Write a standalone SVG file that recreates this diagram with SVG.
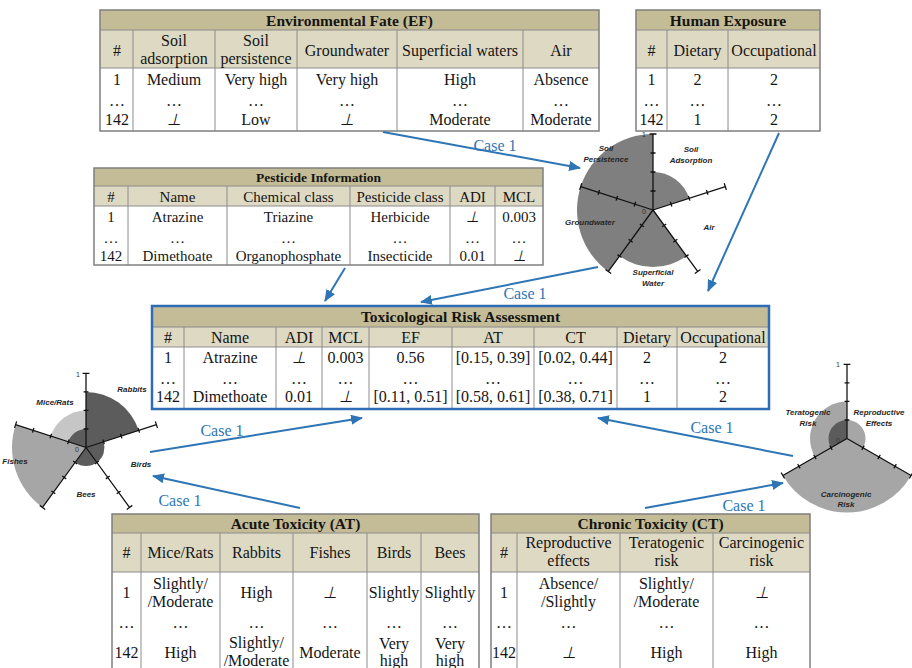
<svg xmlns="http://www.w3.org/2000/svg" xmlns:xlink="http://www.w3.org/1999/xlink" width="912" height="668" viewBox="0 0 912 668">
<style>
.tf{fill:#c4bc96}
.hf{fill:#ddd9c3}
.wf{fill:#ffffff}
.ob{fill:none;stroke:#7f7f7f;stroke-width:1.5}
.bb{fill:none;stroke:#2e6db4;stroke-width:2.5}
.gl{stroke:#8c8c8c;stroke-width:1;fill:none}
text{font-family:"Liberation Serif","Times New Roman",serif;fill:#151515;text-anchor:middle}
.ttl{font-weight:bold;font-size:15.5px}
.ttls{font-weight:bold;font-size:13.5px}
.c{font-size:16px}
.cs{font-size:15px}
.it{font-style:italic}
.lab{font-family:"Liberation Sans",Arial,sans-serif;font-weight:bold;font-style:italic;font-size:8px;fill:#262626}
.num{font-family:"Liberation Sans",Arial,sans-serif;font-size:7px;fill:#333}
.case{font-size:16px;fill:#2e75b6}
.dk{fill:#5c5c5c}
.md{fill:#7f7f7f}
.lt{fill:#a6a6a6}
.lt2{fill:#c6c6c6}
.ax{fill:none;stroke:#111;stroke-width:1.3}
.arr{fill:none;stroke:#2e75b6;stroke-width:2;marker-end:url(#ah)}
</style>
<defs>
<marker id="ah" viewBox="0 0 12 10" refX="11" refY="5" markerWidth="12" markerHeight="10" markerUnits="userSpaceOnUse" orient="auto">
<path d="M0,0 L12,5 L0,10 Z" fill="#2e75b6"/>
</marker>
<path id="axis" class="ax" d="M0,0 V-76 M-2.5,-19 H2.5 M-2.5,-38 H2.5 M-2.5,-57 H2.5 M-3.5,-76 H3.5"/>
</defs>
<rect width="912" height="668" fill="#ffffff"/>

<!-- Environmental Fate -->
<g id="ef-table">
<rect x="100" y="10" width="499" height="20" class="tf"/>
<rect x="100" y="30" width="499" height="38" class="hf"/>
<rect x="100" y="68" width="499" height="63" class="wf"/>
<path class="gl" d="M100,30 H599 M100,68 H599 M133,30 V131 M215,30 V131 M297,30 V131 M397,30 V131 M523,30 V131"/>
<rect x="100" y="10" width="499" height="121" class="ob"/>
<text class="ttl" x="349.5" y="26">Environmental Fate (EF)</text>
<text class="c" x="117" y="56">#</text>
<text class="c" x="174" y="46">Soil</text><text class="c" x="174" y="64">adsorption</text>
<text class="c" x="256" y="46">Soil</text><text class="c" x="256" y="64">persistence</text>
<text class="c" x="347" y="56">Groundwater</text>
<text class="c" x="460" y="56">Superficial waters</text>
<text class="c" x="561" y="56">Air</text>
<text class="c" x="117" y="85">1</text><text class="c" x="174" y="85">Medium</text><text class="c" x="256" y="85">Very high</text><text class="c" x="347" y="85">Very high</text><text class="c" x="460" y="85">High</text><text class="c" x="561" y="85">Absence</text>
<text class="c" x="117" y="106">…</text><text class="c" x="174" y="106">…</text><text class="c" x="256" y="106">…</text><text class="c" x="347" y="106">…</text><text class="c" x="460" y="106">…</text><text class="c" x="561" y="106">…</text>
<text class="c" x="117" y="125">142</text><text class="c it" x="174" y="125">⊥</text><text class="c" x="256" y="125">Low</text><text class="c it" x="347" y="125">⊥</text><text class="c" x="460" y="125">Moderate</text><text class="c" x="561" y="125">Moderate</text>
</g>

<!-- Human Exposure -->
<g id="he-table">
<rect x="636" y="10" width="184" height="20" class="tf"/>
<rect x="636" y="30" width="184" height="38" class="hf"/>
<rect x="636" y="68" width="184" height="63" class="wf"/>
<path class="gl" d="M636,30 H820 M636,68 H820 M667,30 V131 M728,30 V131"/>
<rect x="636" y="10" width="184" height="121" class="ob"/>
<text class="ttl" x="728" y="26">Human Exposure</text>
<text class="c" x="651.5" y="56">#</text><text class="c" x="697.5" y="56">Dietary</text><text class="c" x="774" y="56">Occupational</text>
<text class="c" x="651.5" y="85">1</text><text class="c" x="697.5" y="85">2</text><text class="c" x="774" y="85">2</text>
<text class="c" x="651.5" y="106">…</text><text class="c" x="697.5" y="106">…</text><text class="c" x="774" y="106">…</text>
<text class="c" x="651.5" y="125">142</text><text class="c" x="697.5" y="125">1</text><text class="c" x="774" y="125">2</text>
</g>

<!-- Pesticide Information -->
<g id="pi-table">
<rect x="94" y="168" width="449" height="18" class="tf"/>
<rect x="94" y="186" width="449" height="20" class="hf"/>
<rect x="94" y="206" width="449" height="59" class="wf"/>
<path class="gl" d="M94,186 H543 M94,206 H543 M128,186 V265 M227,186 V265 M350,186 V265 M450,186 V265 M495,186 V265"/>
<rect x="94" y="168" width="449" height="97" class="ob"/>
<text class="ttls" x="318.5" y="182">Pesticide Information</text>
<text class="cs" x="111" y="202">#</text><text class="cs" x="177.5" y="202">Name</text><text class="cs" x="288.5" y="202">Chemical class</text><text class="cs" x="400" y="202">Pesticide class</text><text class="cs" x="472.5" y="202">ADI</text><text class="cs" x="519" y="202">MCL</text>
<text class="cs" x="111" y="222">1</text><text class="cs" x="177.5" y="222">Atrazine</text><text class="cs" x="288.5" y="222">Triazine</text><text class="cs" x="400" y="222">Herbicide</text><text class="cs it" x="472.5" y="222">⊥</text><text class="cs" x="519" y="222">0.003</text>
<text class="cs" x="111" y="243">…</text><text class="cs" x="177.5" y="243">…</text><text class="cs" x="288.5" y="243">…</text><text class="cs" x="400" y="243">…</text><text class="cs" x="472.5" y="243">…</text><text class="cs" x="519" y="243">…</text>
<text class="cs" x="111" y="261">142</text><text class="cs" x="177.5" y="261">Dimethoate</text><text class="cs" x="288.5" y="261">Organophosphate</text><text class="cs" x="400" y="261">Insecticide</text><text class="cs" x="472.5" y="261">0.01</text><text class="cs it" x="519" y="261">⊥</text>
</g>

<!-- Toxicological Risk Assessment -->
<g id="tra-table">
<rect x="152" y="306" width="617" height="21" class="tf"/>
<rect x="152" y="327" width="617" height="20" class="hf"/>
<rect x="152" y="347" width="617" height="62" class="wf"/>
<path class="gl" d="M152,327 H769 M152,347 H769 M184,327 V409 M276,327 V409 M322,327 V409 M369,327 V409 M452,327 V409 M534,327 V409 M617,327 V409 M677,327 V409"/>
<rect x="152" y="306" width="617" height="103" class="bb"/>
<text class="ttl" x="460.5" y="322">Toxicological Risk Assessment</text>
<text class="c" x="168" y="343">#</text><text class="c" x="230" y="343">Name</text><text class="c" x="299" y="343">ADI</text><text class="c" x="345.5" y="343">MCL</text><text class="c" x="410.5" y="343">EF</text><text class="c" x="493" y="343">AT</text><text class="c" x="575.5" y="343">CT</text><text class="c" x="647" y="343">Dietary</text><text class="c" x="723" y="343">Occupational</text>
<text class="c" x="168" y="363">1</text><text class="c" x="230" y="363">Atrazine</text><text class="c it" x="299" y="363">⊥</text><text class="c" x="345.5" y="363">0.003</text><text class="c" x="410.5" y="363">0.56</text><text class="c" x="493" y="363">[0.15, 0.39]</text><text class="c" x="575.5" y="363">[0.02, 0.44]</text><text class="c" x="647" y="363">2</text><text class="c" x="723" y="363">2</text>
<text class="c" x="168" y="384">…</text><text class="c" x="230" y="384">…</text><text class="c" x="299" y="384">…</text><text class="c" x="345.5" y="384">…</text><text class="c" x="410.5" y="384">…</text><text class="c" x="493" y="384">…</text><text class="c" x="575.5" y="384">…</text><text class="c" x="647" y="384">…</text><text class="c" x="723" y="384">…</text>
<text class="c" x="168" y="402">142</text><text class="c" x="230" y="402">Dimethoate</text><text class="c" x="299" y="402">0.01</text><text class="c it" x="345.5" y="402">⊥</text><text class="c" x="410.5" y="402">[0.11, 0.51]</text><text class="c" x="493" y="402">[0.58, 0.61]</text><text class="c" x="575.5" y="402">[0.38, 0.71]</text><text class="c" x="647" y="402">1</text><text class="c" x="723" y="402">2</text>
</g>

<!-- Acute Toxicity -->
<g id="at-table">
<rect x="112" y="514" width="367" height="19" class="tf"/>
<rect x="112" y="533" width="367" height="39" class="hf"/>
<rect x="112" y="572" width="367" height="96" class="wf"/>
<path class="gl" d="M112,533 H479 M112,572 H479 M141,533 V668 M220,533 V668 M293,533 V668 M367,533 V668 M421,533 V668"/>
<rect x="112" y="514" width="367" height="160" class="ob"/>
<text class="ttl" x="295.5" y="529">Acute Toxicity (AT)</text>
<text class="c" x="126.5" y="558">#</text><text class="c" x="180.5" y="558">Mice/Rats</text><text class="c" x="256.5" y="558">Rabbits</text><text class="c" x="330" y="558">Fishes</text><text class="c" x="394" y="558">Birds</text><text class="c" x="450" y="558">Bees</text>
<text class="c" x="126.5" y="598">1</text><text class="c" x="180.5" y="589">Slightly/</text><text class="c" x="180.5" y="607">/Moderate</text><text class="c" x="256.5" y="598">High</text><text class="c it" x="330" y="598">⊥</text><text class="c" x="394" y="598">Slightly</text><text class="c" x="450" y="598">Slightly</text>
<text class="c" x="126.5" y="628">…</text><text class="c" x="180.5" y="628">…</text><text class="c" x="256.5" y="628">…</text><text class="c" x="330" y="628">…</text><text class="c" x="394" y="628">…</text><text class="c" x="450" y="628">…</text>
<text class="c" x="126.5" y="658">142</text><text class="c" x="180.5" y="658">High</text><text class="c" x="256.5" y="648">Slightly/</text><text class="c" x="256.5" y="666">/Moderate</text><text class="c" x="330" y="658">Moderate</text><text class="c" x="394" y="649">Very</text><text class="c" x="394" y="666">high</text><text class="c" x="450" y="649">Very</text><text class="c" x="450" y="666">high</text>
</g>

<!-- Chronic Toxicity -->
<g id="ct-table">
<rect x="491" y="514" width="319" height="19" class="tf"/>
<rect x="491" y="533" width="319" height="39" class="hf"/>
<rect x="491" y="572" width="319" height="96" class="wf"/>
<path class="gl" d="M491,533 H810 M491,572 H810 M517,533 V668 M620,533 V668 M713,533 V668"/>
<rect x="491" y="514" width="319" height="160" class="ob"/>
<text class="ttl" x="650.5" y="529">Chronic Toxicity (CT)</text>
<text class="c" x="504" y="558">#</text><text class="c" x="568.5" y="548">Reproductive</text><text class="c" x="568.5" y="566">effects</text><text class="c" x="666.5" y="548">Teratogenic</text><text class="c" x="666.5" y="566">risk</text><text class="c" x="761.5" y="548">Carcinogenic</text><text class="c" x="761.5" y="566">risk</text>
<text class="c" x="504" y="598">1</text><text class="c" x="568.5" y="589">Absence/</text><text class="c" x="568.5" y="607">/Slightly</text><text class="c" x="666.5" y="589">Slightly/</text><text class="c" x="666.5" y="607">/Moderate</text><text class="c it" x="761.5" y="598">⊥</text>
<text class="c" x="504" y="628">…</text><text class="c" x="568.5" y="628">…</text><text class="c" x="666.5" y="628">…</text><text class="c" x="761.5" y="628">…</text>
<text class="c" x="504" y="658">142</text><text class="c it" x="568.5" y="658">⊥</text><text class="c" x="666.5" y="658">High</text><text class="c" x="761.5" y="658">High</text>
</g>

<!-- Radial chart: Environmental Fate -->
<g id="ef-chart">
<path class="md" d="M653,210 L653,172 A38,38 0 0 1 689.14,198.26 Z"/>
<path class="md" d="M653,210 L686.5,256.1 A57,57 0 0 1 619.5,256.1 Z"/>
<path class="md" d="M653,210 L608.33,271.48 A76,76 0 0 1 653,134 Z"/>
<use xlink:href="#axis" href="#axis" transform="translate(653,210)"/>
<use xlink:href="#axis" href="#axis" transform="translate(653,210) rotate(72)"/>
<use xlink:href="#axis" href="#axis" transform="translate(653,210) rotate(144)"/>
<use xlink:href="#axis" href="#axis" transform="translate(653,210) rotate(216)"/>
<use xlink:href="#axis" href="#axis" transform="translate(653,210) rotate(288)"/>
<text class="num" x="644" y="137">1</text>
<text class="num" x="644" y="214">0</text>
<text class="lab" x="606" y="151">Soil</text><text class="lab" x="606" y="162">Persistence</text>
<text class="lab" x="691" y="152">Soil</text><text class="lab" x="691" y="163">Adsorption</text>
<text class="lab" x="709" y="230">Air</text>
<text class="lab" x="590" y="225">Groundwater</text>
<text class="lab" x="653" y="275">Superficial</text><text class="lab" x="653" y="286">Water</text>
</g>

<!-- Radial chart: Acute Toxicity -->
<g id="at-chart">
<path class="dk" d="M86,447.5 L86,392 A55.5,55.5 0 0 1 138.79,430.35 Z"/>
<path class="dk" d="M86,447.5 L103.6,441.78 A18.5,18.5 0 0 1 75.13,462.47 Z"/>
<path class="lt" d="M86,447.5 L42.5,507.37 A74,74 0 0 1 15.62,424.63 Z"/>
<path class="lt2" d="M86,447.5 L50.81,436.07 A37,37 0 0 1 86,410.5 Z"/>
<path class="dk" d="M86,447.5 L68.4,441.78 A18.5,18.5 0 0 1 86,429 Z"/>
<use xlink:href="#axis" href="#axis" transform="translate(86,447.5) scale(0.974)"/>
<use xlink:href="#axis" href="#axis" transform="translate(86,447.5) rotate(72) scale(0.974)"/>
<use xlink:href="#axis" href="#axis" transform="translate(86,447.5) rotate(144) scale(0.974)"/>
<use xlink:href="#axis" href="#axis" transform="translate(86,447.5) rotate(216) scale(0.974)"/>
<use xlink:href="#axis" href="#axis" transform="translate(86,447.5) rotate(288) scale(0.974)"/>
<text class="num" x="78" y="377">1</text>
<text class="num" x="77" y="452">0</text>
<text class="lab" x="132" y="392">Rabbits</text>
<text class="lab" x="55" y="405">Mice/Rats</text>
<text class="lab" x="15" y="464">Fishes</text>
<text class="lab" x="141" y="467">Birds</text>
<text class="lab" x="86" y="497">Bees</text>
</g>

<!-- Radial chart: Chronic Toxicity -->
<g id="ct-chart">
<path class="lt" d="M847,438.5 L911.09,475.5 A74,74 0 0 1 782.91,475.5 Z"/>
<path class="lt" d="M847,438.5 L847,420 A18.5,18.5 0 0 1 863.02,447.75 Z"/>
<path class="lt" d="M847,438.5 L814.96,457 A37,37 0 0 1 847,401.5 Z"/>
<path class="dk" d="M847,438.5 L830.98,447.75 A18.5,18.5 0 0 1 847,420 Z"/>
<use xlink:href="#axis" href="#axis" transform="translate(847,438.5) scale(0.974)"/>
<use xlink:href="#axis" href="#axis" transform="translate(847,438.5) rotate(120) scale(0.974)"/>
<use xlink:href="#axis" href="#axis" transform="translate(847,438.5) rotate(240) scale(0.974)"/>
<text class="num" x="838" y="367">1</text>
<text class="num" x="838" y="443">0</text>
<text class="lab" x="808" y="415">Teratogenic</text><text class="lab" x="808" y="426">Risk</text>
<text class="lab" x="879" y="415">Reproductive</text><text class="lab" x="879" y="426">Effects</text>
<text class="lab" x="846" y="497">Carcinogenic</text><text class="lab" x="846" y="507">Risk</text>
</g>

<!-- Connectors -->
<g id="connectors">
<path class="arr" d="M383,132 L580,168"/>
<path class="arr" d="M779,133 L708,291"/>
<path class="arr" d="M598,267 L421,302"/>
<path class="arr" d="M345,268 L325,301"/>
<path class="arr" d="M150,452 L362,418"/>
<path class="arr" d="M300,508 L153,476"/>
<path class="arr" d="M793,456 L598,418"/>
<path class="arr" d="M645,508 L783,483"/>
<text class="case" x="495" y="151">Case 1</text>
<text class="case" x="525" y="299">Case 1</text>
<text class="case" x="222" y="436">Case 1</text>
<text class="case" x="180" y="506">Case 1</text>
<text class="case" x="712" y="433">Case 1</text>
<text class="case" x="744" y="511">Case 1</text>
</g>
</svg>
